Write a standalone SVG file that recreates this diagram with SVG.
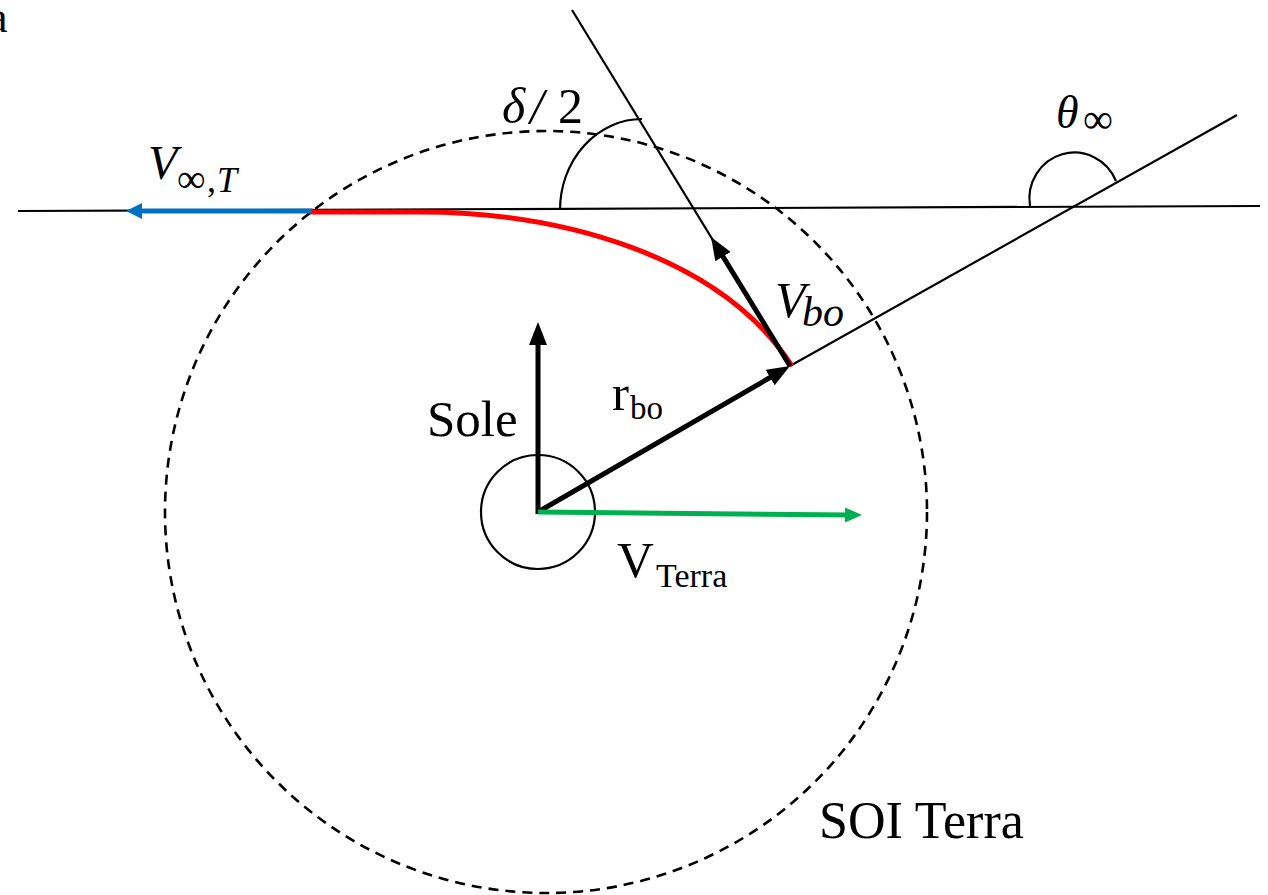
<svg xmlns="http://www.w3.org/2000/svg" width="1268" height="895" viewBox="0 0 1268 895">
<style>
.thin{fill:none;stroke:#000;stroke-width:2.2}
.thick{fill:none;stroke:#000;stroke-width:5}
.txt{font-family:"Liberation Serif","Times New Roman",serif;fill:#000}
.it{font-style:italic}
</style>
<defs>
<marker id="ahBlack" markerUnits="userSpaceOnUse" markerWidth="24" markerHeight="20" refX="9" refY="9" orient="auto"><path d="M0,0 L23,9 L0,18 z" fill="#000"/></marker>
<marker id="ahGreen" markerUnits="userSpaceOnUse" markerWidth="18" markerHeight="16" refX="6" refY="7.5" orient="auto"><path d="M0,0 L17,7.5 L0,15 z" fill="#00b050"/></marker>
<marker id="ahBlue" markerUnits="userSpaceOnUse" markerWidth="18" markerHeight="18" refX="6" refY="8" orient="auto"><path d="M0,0 L16,8 L0,16 z" fill="#0070c0"/></marker>
</defs>
<rect width="1268" height="895" fill="#fff"/>
<g id="soi">
<circle cx="546" cy="512" r="381" fill="none" stroke="#000" stroke-width="2.6" stroke-dasharray="10 7"/>
<text class="txt" x="819" y="838" font-size="52">SOI Terra</text>
</g>
<g id="earth">
<circle cx="538" cy="512" r="57" class="thin"/>
</g>
<g id="guides">
<line x1="18" y1="211" x2="1260" y2="206" class="thin"/>
<line x1="572" y1="10" x2="790" y2="366" class="thin"/>
<line x1="790" y1="366" x2="1237" y2="115" class="thin"/>
<path d="M560,210 A82,91 0 0 1 642,119" class="thin"/>
<path d="M1030,206 A45,46 0 0 1 1116,181" class="thin"/>
</g>
<g id="trajectory">
<path d="M310,212 L420,212 C560,212 720,255 792,366" fill="none" stroke="#ff0000" stroke-width="5"/>
</g>
<g id="connectors">
<line x1="312" y1="211" x2="136" y2="211" stroke="#0070c0" stroke-width="5" marker-end="url(#ahBlue)"/>
<line x1="538" y1="514" x2="538" y2="336" class="thick" marker-end="url(#ahBlack)"/>
<line x1="538" y1="512" x2="777.9" y2="373" class="thick" marker-end="url(#ahBlack)"/>
<line x1="790" y1="366" x2="718.3" y2="248.9" class="thick" marker-end="url(#ahBlack)"/>
<line x1="538" y1="512" x2="851" y2="515" stroke="#00b050" stroke-width="5" marker-end="url(#ahGreen)"/>
</g>
<g id="labels">
<text class="txt" x="-12" y="32" font-size="44">a</text>
<text class="txt" x="148" y="179" font-size="48"><tspan class="it">V</tspan><tspan x="177" y="192" font-size="40">∞</tspan><tspan x="207" y="192" font-size="36">,</tspan><tspan class="it" x="217" y="192" font-size="36">T</tspan></text>
<text class="txt" y="123" font-size="50"><tspan class="it" x="502">δ</tspan><tspan class="it" x="530">/</tspan><tspan x="558">2</tspan></text>
<text class="txt" y="128" font-size="46"><tspan class="it" x="1056">θ</tspan><tspan x="1083" y="133" font-size="42">∞</tspan></text>
<text class="txt" x="775" y="317" font-size="50"><tspan class="it">V</tspan><tspan class="it" x="802" y="326" font-size="42">bo</tspan></text>
<text class="txt" x="427" y="436" font-size="51">Sole</text>
<text class="txt" x="612" y="410" font-size="51">r<tspan x="630" y="419" font-size="33">bo</tspan></text>
<text class="txt" x="617" y="577" font-size="51">V<tspan x="656" y="587" font-size="34">Terra</tspan></text>
</g>
</svg>
